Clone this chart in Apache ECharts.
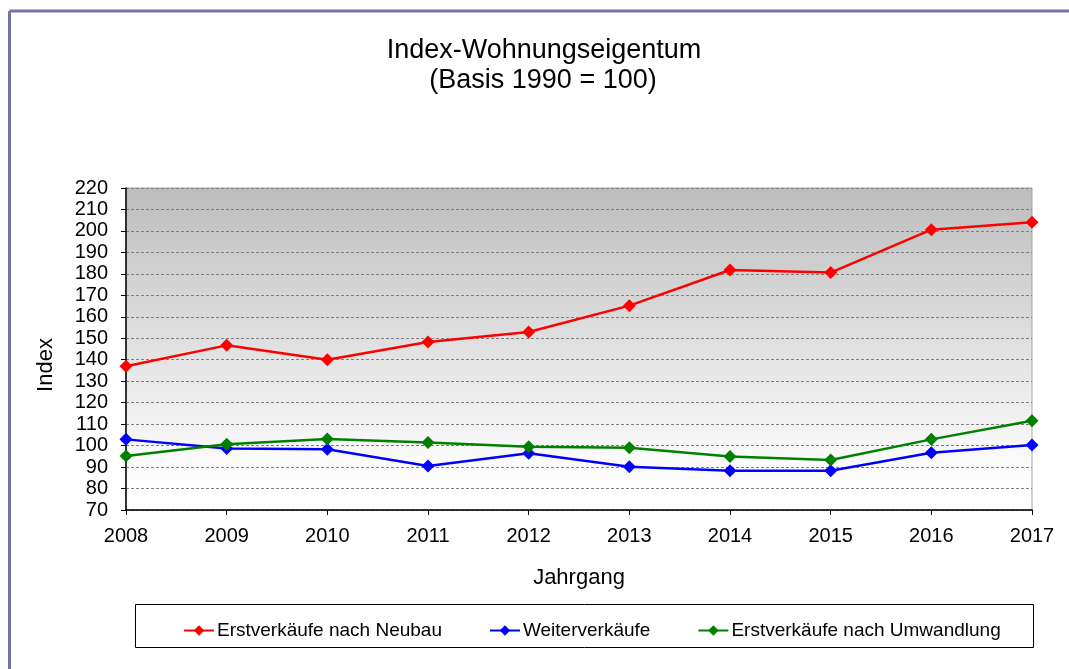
<!DOCTYPE html>
<html>
<head>
<meta charset="utf-8">
<title>Index-Wohnungseigentum</title>
<script src="https://cdn.jsdelivr.net/npm/echarts@6/dist/echarts.min.js"></script>
<style>
  html, body { margin: 0; padding: 0; background: #fff; }
  #chart { width: 1069px; height: 669px; }
</style>
</head>
<body>
<div id="chart"></div>
<script>
const years = ["2008", "2009", "2010", "2011", "2012", "2013", "2014", "2015", "2016", "2017"]
const neubau = [137, 146.7, 140, 148.3, 152.9, 165.2, 181.8, 180.6, 200.6, 204]
const weiterverkauf = [102.9, 98.7, 98.3, 90.5, 96.4, 90.2, 88.3, 88.3, 96.7, 100.3]
const umwandlung = [95.2, 100.6, 103.1, 101.4, 99.5, 99, 94.9, 93.3, 102.9, 111.6]
const seriesNames = ["Erstverkäufe nach Neubau", "Weiterverkäufe", "Erstverkäufe nach Umwandlung"]
const titleLines = ["Index-Wohnungseigentum", "(Basis 1990 = 100)"]
const yAxisName = "Index"
const xAxisName = "Jahrgang"

const font = "Liberation Sans, Arial, sans-serif"

const chart = echarts.init(document.getElementById("chart"))

function lineSeries(name, data, color) {
  return {
    name: name,
    type: "line",
    data: data,
    symbol: "diamond",
    symbolSize: 13,
    lineStyle: { width: 2.5, color: color },
    itemStyle: { color: color },
    emphasis: { disabled: true },
  }
}

chart.setOption({
  animation: false,
  backgroundColor: "#fff",
  textStyle: { fontFamily: font },
  graphic: [
    // frame lines on the left and top
    { type: "line", shape: { x1: 9.5, y1: 11, x2: 1069, y2: 11 }, style: { stroke: "#7474a8", lineWidth: 3 } },
    { type: "line", shape: { x1: 9.5, y1: 11, x2: 9.5, y2: 669 }, style: { stroke: "#7474a8", lineWidth: 3 } },
    // legend box
    { type: "rect", shape: { x: 135.5, y: 604.5, width: 898, height: 43 }, style: { fill: "none", stroke: "#000", lineWidth: 1 }, z: 1 },
    { type: "text", x: 544, y: 51, style: { text: titleLines[0], font: "27px " + font, fill: "#000", textAlign: "center", textVerticalAlign: "middle" } },
    { type: "text", x: 543, y: 81, style: { text: titleLines[1], font: "27px " + font, fill: "#000", textAlign: "center", textVerticalAlign: "middle" } },
    // y axis title, sits a bit below the plot middle
    { type: "text", x: 46, y: 365, rotation: Math.PI / 2, style: { text: yAxisName, font: "22px " + font, fill: "#000", textAlign: "center", textVerticalAlign: "middle" } },
  ],
  legend: {
    data: seriesNames,
    left: 178,
    top: 616,
    itemGap: 47,
    itemWidth: 30,
    itemHeight: 13,
    selectedMode: false,
    textStyle: { fontSize: 19, color: "#000", fontFamily: font, padding: [0, 0, 0, -2] },
  },
  grid: {
    left: 126,
    right: 37,
    top: 188,
    bottom: 159,
    show: true,
    borderColor: "#a6a6a6",
    borderWidth: 1,
    backgroundColor: {
      type: "linear", x: 0, y: 0, x2: 0, y2: 1,
      colorStops: [
        { offset: 0, color: "#bdbdbd" },
        { offset: 0.85, color: "#fbfbfb" },
        { offset: 1, color: "#ffffff" },
      ],
    },
  },
  xAxis: {
    type: "category",
    data: years,
    boundaryGap: false,
    name: xAxisName,
    nameLocation: "middle",
    nameGap: 57,
    nameTextStyle: { fontSize: 22, color: "#000", fontFamily: font },
    axisLine: { lineStyle: { color: "#000", width: 1.5 } },
    axisTick: { alignWithLabel: true, length: 5, lineStyle: { color: "#000" } },
    axisLabel: { fontSize: 20, color: "#000", margin: 16, fontFamily: font },
    splitLine: { show: false },
  },
  yAxis: {
    type: "value",
    min: 70,
    max: 220,
    interval: 10,
    axisLine: { show: true, lineStyle: { color: "#000", width: 1.5 } },
    axisTick: { show: true, length: 5, lineStyle: { color: "#000" } },
    axisLabel: { fontSize: 20, color: "#000", margin: 18, fontFamily: font },
    splitLine: { show: true, lineStyle: { color: "#808080", type: [3, 2], width: 1 } },
  },
  series: [
    lineSeries(seriesNames[0], neubau, "#ff0000"),
    lineSeries(seriesNames[1], weiterverkauf, "#0000ff"),
    lineSeries(seriesNames[2], umwandlung, "#008000"),
  ],
})
</script>
</body>
</html>
